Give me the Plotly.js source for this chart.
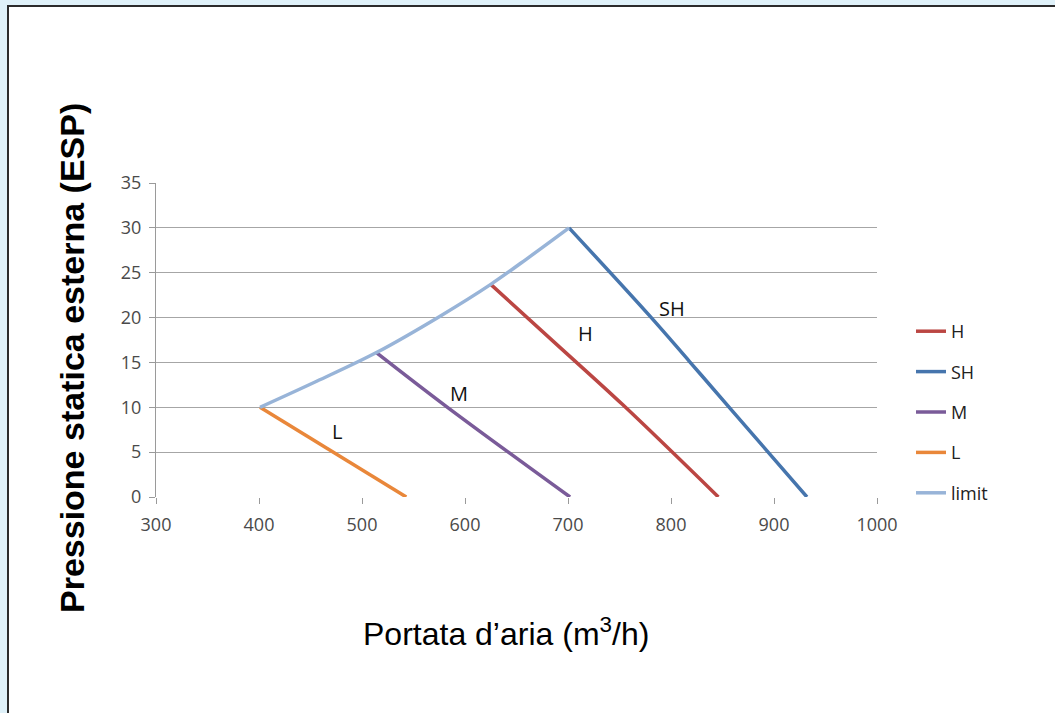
<!DOCTYPE html>
<html>
<head>
<meta charset="utf-8">
<script src="https://cdn.plot.ly/plotly-3.0.1.min.js"></script>
<style>
  html, body { margin: 0; padding: 0; width: 1055px; height: 713px; overflow: hidden; background: #dff1f9; }
  #frame { position: absolute; left: 7px; top: 5px; width: 1048px; height: 708px; background: #ffffff;
           border-left: 2px solid #2b2b2b; border-top: 2px solid #2b2b2b; box-sizing: border-box; }
  #chart { position: absolute; left: 0; top: 0; width: 1055px; height: 713px; }
</style>
</head>
<body>
<div id="frame"></div>
<div id="chart"></div>
<script>
// Data
const hX = [625, 690, 753, 846];
const hY = [23.7, 16.9, 10.3, 0];
const shX = [701, 780, 818, 858, 932];
const shY = [30, 20.1, 15.1, 9.8, 0];
const mX = [514, 583, 702];
const mY = [16.1, 10.0, 0];
const lX = [401, 543];
const lY = [10, 0];
const limitX = [401, 456, 514, 575, 625, 663, 701];
const limitY = [10, 12.9, 16.1, 20.1, 23.7, 26.8, 30];

const labelText = ['SH', 'H', 'M', 'L'];
const labelX = [801, 717, 594, 476];
const labelY = [21, 18.2, 11.5, 7.3];

const xTicks = [300, 400, 500, 600, 700, 800, 900, 1000];
const yTicks = [0, 5, 10, 15, 20, 25, 30, 35];

const colors = { H: '#bb4643', SH: '#4675ad', M: '#7a5b99', L: '#e9873a', limit: '#98b4d8' };
const lw = 3.5;

function tr(name, x, y, color, grp) {
  return { type: 'scatter', mode: 'lines', name: name, x: x, y: y,
           line: { color: color, width: lw, shape: 'spline', smoothing: 1 }, legendgroup: grp };
}

const data = [
  tr('H', hX, hY, colors.H, 'g1'),
  tr('SH', shX, shY, colors.SH, 'g2'),
  tr('M', mX, mY, colors.M, 'g3'),
  tr('L', lX, lY, colors.L, 'g4'),
  tr('limit', limitX, limitY, colors.limit, 'g5')
];

const annotations = labelText.map((t, i) => ({
  x: labelX[i], y: labelY[i], xref: 'x', yref: 'y', text: t, showarrow: false,
  font: { family: 'Open Sans, sans-serif', size: 20, color: '#111111' }
}));

annotations.push({
  xref: 'paper', yref: 'paper', x: (506 - 156) / 721, y: (497 - 632) / 314,
  xanchor: 'center', yanchor: 'middle', showarrow: false,
  text: 'Portata d’aria (m<sup>3</sup>/h)',
  font: { family: 'Liberation Sans, Arial, sans-serif', size: 32, color: '#000000' }
});
annotations.push({
  xref: 'paper', yref: 'paper', x: (72 - 156) / 721, y: (497 - 358) / 314,
  xanchor: 'center', yanchor: 'middle', showarrow: false, textangle: -90,
  text: '<b>Pressione statica esterna (ESP)</b>',
  font: { family: 'Liberation Sans, Arial, sans-serif', size: 34, color: '#000000' }
});

const layout = {
  width: 1055, height: 713,
  paper_bgcolor: 'rgba(0,0,0,0)', plot_bgcolor: 'rgba(0,0,0,0)',
  margin: { l: 156, r: 178, t: 183, b: 216 },
  showlegend: true,
  legend: {
    x: (911 - 156) / 721, xanchor: 'left', y: (497 - 313) / 314, yanchor: 'top',
    font: { family: 'Open Sans, sans-serif', size: 18, color: '#222222' },
    tracegroupgap: 14, itemwidth: 30, bgcolor: 'rgba(0,0,0,0)'
  },
  xaxis: {
    range: [300, 1000], tickvals: xTicks, ticktext: xTicks.map(String),
    showgrid: false, zeroline: false, showline: false,
    ticks: 'outside', ticklen: 6, tickcolor: '#9a9a9a', tickwidth: 1,
    tickfont: { family: 'Open Sans, sans-serif', size: 18, color: '#4a4a4a' },
    ticklabelstandoff: 5, fixedrange: true
  },
  yaxis: {
    range: [0, 35], tickvals: yTicks, ticktext: yTicks.map(String),
    showgrid: true, gridcolor: '#a6a6a6', gridwidth: 1.2,
    zeroline: false, showline: true, linecolor: '#9a9a9a', linewidth: 1,
    ticks: 'outside', ticklen: 6, tickcolor: '#9a9a9a', tickwidth: 1,
    tickfont: { family: 'Open Sans, sans-serif', size: 18, color: '#4a4a4a' },
    ticklabelstandoff: 4, fixedrange: true
  },
  annotations: annotations
};

Plotly.newPlot('chart', data, layout, { displayModeBar: false, staticPlot: true });
</script>
</body>
</html>
